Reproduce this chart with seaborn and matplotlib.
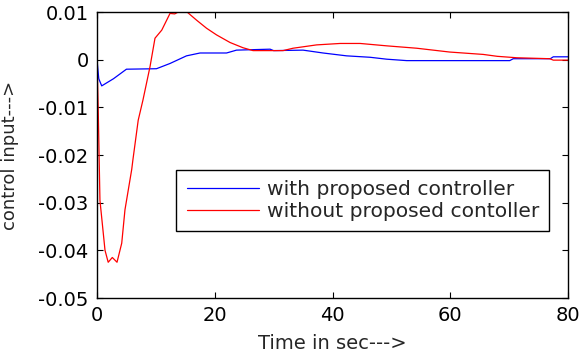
import matplotlib
matplotlib.use("Agg")
import matplotlib.pyplot as plt
import seaborn as sns

# time (s) and control input
t_with = [0, 0.3, 0.8, 2.8, 5.0, 10.1, 12.4, 15.2, 17.5, 22.0, 23.7, 29.4, 30.0,
          35.0, 38.4, 42.4, 46.4, 49.2, 52.6, 70.1, 70.7, 77.0, 77.5, 80]
u_with = [0.0, -0.004, -0.0055, -0.004, -0.002, -0.0019, -0.0008, 0.0008, 0.0014,
          0.0014, 0.002, 0.0022, 0.0019, 0.002, 0.0014, 0.0008, 0.0005, 0.0001,
          -0.0002, -0.0002, 0.0002, 0.0002, 0.0006, 0.0006]

t_without = [0, 0.2, 0.5, 1.36, 1.9, 2.6, 3.4, 4.2, 4.75, 5.9, 6.1, 7.0, 7.8, 9.0,
             9.85, 11.0, 12.4, 13.2, 14.4, 15.2, 16.9, 18.6, 20.3, 22.6, 24.8,
             26.5, 31.6, 33.3, 37.3, 41.3, 44.7, 49.2, 54.3, 59.9, 65.6, 68.0,
             71.3, 76.9, 77.5, 80]
u_without = [0.0, -0.01, -0.0295, -0.040, -0.0425, -0.0415, -0.0425, -0.0385,
             -0.0315, -0.023, -0.021, -0.0127, -0.0085, -0.0015, 0.0045, 0.0062,
             0.0097, 0.0096, 0.0104, 0.0101, 0.0083, 0.0066, 0.0052, 0.0036,
             0.0025, 0.0019, 0.0019, 0.0024, 0.0031, 0.0034, 0.0034, 0.0029,
             0.0024, 0.0016, 0.0011, 0.0007, 0.0004, 0.0002, -0.0001, -0.0001]

x_ticks = [0, 20, 40, 60, 80]
y_ticks = [-0.05, -0.04, -0.03, -0.02, -0.01, 0, 0.01]
y_tick_labels = ['-0.05', '-0.04', '-0.03', '-0.02', '-0.01', '0', '0.01']

sns.set_style("ticks")
plt.rcParams['font.family'] = ['DejaVu Sans']
plt.rcParams['axes.unicode_minus'] = False

fig = plt.figure(figsize=(5.87, 3.56), dpi=100)
ax = fig.add_axes([97 / 587, 1 - 298 / 356, 471 / 587, 286 / 356])

sns.lineplot(x=t_with, y=u_with, ax=ax, color='#0000ff', linewidth=0.9,
             sort=False, label='with proposed controller')
sns.lineplot(x=t_without, y=u_without, ax=ax, color='#ff0000', linewidth=0.9,
             sort=False, label='without proposed contoller')

ax.set_xlim(0, 80)
ax.set_ylim(-0.05, 0.01)
ax.set_xticks(x_ticks)
ax.set_yticks(y_ticks)
ax.set_yticklabels(y_tick_labels)
ax.tick_params(direction='in', top=True, right=True, labelsize=14,
               length=4, width=0.8, colors='black', pad=6)
for s in ax.spines.values():
    s.set_visible(True)
    s.set_color('black')
    s.set_linewidth(1.0)

ax.set_xlabel('Time in sec--->', fontsize=14, labelpad=6)
ax.set_ylabel('control input--->', fontsize=13, labelpad=14)

leg = ax.legend(loc='upper right', bbox_to_anchor=(0.96, 0.4476),
                borderaxespad=0, fontsize=14.6, frameon=True, fancybox=False,
                handlelength=3.55, handletextpad=0.4, borderpad=0.5,
                labelspacing=0.15)
leg.get_frame().set_edgecolor('black')
leg.get_frame().set_linewidth(1.0)
leg.get_frame().set_alpha(1)

fig.savefig('out.png', dpi=100)
